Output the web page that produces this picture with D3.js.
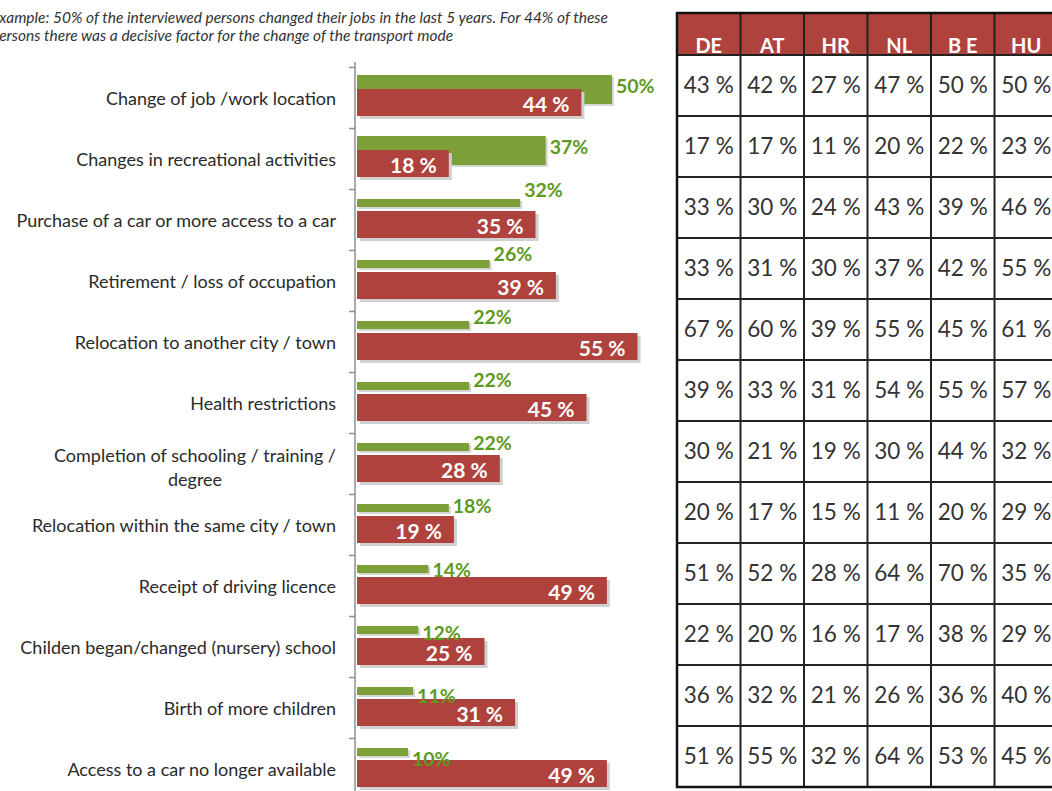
<!DOCTYPE html>
<html>
<head>
<meta charset="utf-8">
<script src="https://cdn.jsdelivr.net/npm/d3@7"></script>
<style>
  body { margin: 0; background: #fff; }
  svg { display: block; font-family: Lato, "Open Sans", sans-serif; }
</style>
</head>
<body>
<div id="chart"></div>
<script>
// categories, top to bottom
var categories = [
  "Change of job /work location",
  "Changes in recreational activities",
  "Purchase of a car or more access to a car",
  "Retirement / loss of occupation",
  "Relocation to another city / town",
  "Health restrictions",
  "Completion of schooling / training / degree",
  "Relocation within the same city / town",
  "Receipt of driving licence",
  "Childen began/changed (nursery) school",
  "Birth of more children",
  "Access to a car no longer available"
];
// share of persons with the event (green) and share for whom it was decisive (red)
var changed  = [50, 37, 32, 26, 22, 22, 22, 18, 14, 12, 11, 10];
var decisive = [44, 18, 35, 39, 55, 45, 28, 19, 49, 25, 31, 49];

// country table
var countries = ["DE", "AT", "HR", "NL", "B E", "HU"];
var DE = [43, 17, 33, 33, 67, 39, 30, 20, 51, 22, 36, 51];
var AT = [42, 17, 30, 31, 60, 33, 21, 17, 52, 20, 32, 55];
var HR = [27, 11, 24, 30, 39, 31, 19, 15, 28, 16, 21, 32];
var NL = [47, 20, 43, 37, 55, 54, 30, 11, 64, 17, 26, 64];
var BE = [50, 22, 39, 42, 45, 55, 44, 20, 70, 38, 36, 53];
var HU = [50, 23, 46, 55, 61, 57, 32, 29, 35, 29, 40, 45];
var countryValues = [DE, AT, HR, NL, BE, HU];

var caption = [
  "Example: 50% of the interviewed persons changed their jobs in the last 5 years. For 44% of these",
  "persons there was a decisive factor for the change of the transport mode"
];

var W = 1052, H = 791;
var RED = "#b0423d", GREEN = "#7d9f38", GREEN_TXT = "#5e9a22";
var LABEL_SIZE = "18px";

var svg = d3.select("#chart").append("svg")
  .attr("width", W).attr("height", H);

// caption (cut off on the left like the source)
svg.selectAll("text.caption")
  .data(caption)
  .enter().append("text")
    .attr("class", "caption")
    .attr("x", -9)
    .attr("y", function (d, i) { return 23 + i * 18; })
    .style("font-style", "italic")
    .style("font-size", "15.5px")
    .style("fill", "#333")
    .text(function (d) { return d; });

// scales
var x = d3.scaleLinear().domain([0, 100]).range([357, 867]);
var y = d3.scaleBand().domain(categories).range([67, 67 + 61 * 12]);
var yAxisScale = d3.scaleLinear().domain([0, categories.length]).range([67, 67 + 61 * 12]);

// axis with ticks between categories
var axisG = svg.append("g")
  .attr("transform", "translate(355,0)")
  .call(d3.axisLeft(yAxisScale)
    .tickValues(d3.range(0, categories.length + 1))
    .tickFormat("")
    .tickSize(6)
    .tickSizeOuter(0));
axisG.select(".domain").attr("stroke", "#8f8f8f").attr("stroke-width", 1.5).attr("d", "M0,62V791");
axisG.selectAll(".tick line").attr("stroke", "#8f8f8f").attr("stroke-width", 1.5);

var rows = categories.map(function (c, i) {
  return { cat: c, i: i, g: changed[i], r: decisive[i] };
});

// green bars (first two are drawn tall, behind the red ones)
function greenTop(d) { return y(d.cat) + (d.i < 2 ? 8 : 10); }
function greenH(d) { return d.i < 2 ? 29 : 8; }

var bars = svg.append("g");
bars.selectAll("rect.gshadow")
  .data(rows).enter().append("rect")
    .attr("x", x(0) + 2)
    .attr("y", function (d) { return greenTop(d) + 2; })
    .attr("width", function (d) { return x(d.g) - x(0); })
    .attr("height", greenH)
    .attr("fill", "#d6d6d6");
bars.selectAll("rect.green")
  .data(rows).enter().append("rect")
    .attr("x", x(0))
    .attr("y", greenTop)
    .attr("width", function (d) { return x(d.g) - x(0); })
    .attr("height", greenH)
    .attr("fill", GREEN);

// red bars
bars.selectAll("rect.rshadow")
  .data(rows).enter().append("rect")
    .attr("x", x(0) + 3)
    .attr("y", function (d) { return y(d.cat) + 25; })
    .attr("width", function (d) { return x(d.r) - x(0); })
    .attr("height", 27)
    .attr("fill", "#d0d0d0");
bars.selectAll("rect.red")
  .data(rows).enter().append("rect")
    .attr("x", x(0))
    .attr("y", function (d) { return y(d.cat) + 22; })
    .attr("width", function (d) { return x(d.r) - x(0); })
    .attr("height", 27)
    .attr("fill", RED);

// green value labels
svg.selectAll("text.glabel")
  .data(rows).enter().append("text")
    .attr("x", function (d) { return x(d.g) + 4; })
    .attr("y", function (d) {
      return d.i < 2 ? y(d.cat) + 18 : y(d.cat) + 14 + (d.i - 8) * 2.2;
    })
    .attr("dominant-baseline", "central")
    .style("font-size", "19.5px")
    .style("font-weight", "bold")
    .style("fill", GREEN_TXT)
    .text(function (d) { return d.g + "%"; });

// red value labels
svg.selectAll("text.rlabel")
  .data(rows).enter().append("text")
    .attr("x", function (d) { return x(d.r) - 12; })
    .attr("y", function (d) { return y(d.cat) + 36; })
    .attr("text-anchor", "end")
    .attr("dominant-baseline", "central")
    .style("font-size", "21px")
    .style("font-weight", "bold")
    .style("fill", "#fff")
    .text(function (d) { return d.r + " %"; });

// category labels, wrapped ones are centred in their block
var labelG = svg.append("g");
rows.forEach(function (d) {
  var cy = y(d.cat) + y.bandwidth() / 2;
  var t = labelG.append("text")
    .style("font-size", LABEL_SIZE).style("fill", "#2a2a2a")
    .attr("text-anchor", "end")
    .attr("x", 336).attr("y", cy)
    .attr("dominant-baseline", "central")
    .text(d.cat);
  if (t.node().getComputedTextLength() > 330) {
    var words = d.cat.split(" "), line1 = [], line2 = [];
    t.text("");
    var probe = labelG.append("text").style("font-size", LABEL_SIZE);
    words.forEach(function (w) {
      probe.text(line1.concat([w]).join(" "));
      if (line2.length === 0 && probe.node().getComputedTextLength() <= 320) line1.push(w);
      else line2.push(w);
    });
    probe.remove();
    var lines = [line1.join(" "), line2.join(" ")];
    probe = labelG.append("text").style("font-size", LABEL_SIZE).text(lines[0]);
    var wmax = probe.node().getComputedTextLength();
    probe.remove();
    t.attr("text-anchor", "middle").attr("x", 336 - wmax / 2);
    t.selectAll("tspan").data(lines).enter().append("tspan")
      .attr("x", 336 - wmax / 2)
      .attr("y", function (l, k) { return cy - 9 + k * 24; })
      .text(function (l) { return l; });
  }
});

// table
var col = d3.scaleBand().domain(countries).range([677, 677 + 63.5 * 6]);
var row = d3.scaleBand().domain(categories).range([55, 787]);
var table = svg.append("g");

table.append("rect")
  .attr("x", col.range()[0]).attr("y", 13)
  .attr("width", col.range()[1] - col.range()[0]).attr("height", 42)
  .attr("fill", RED);

table.selectAll("text.head")
  .data(countries).enter().append("text")
    .attr("x", function (c) { return col(c) + col.bandwidth() / 2; })
    .attr("y", 53)
    .attr("text-anchor", "middle")
    .style("font-size", "20px")
    .style("font-weight", "bold")
    .style("fill", "#fff")
    .text(function (c) { return c; });

countries.forEach(function (c, ci) {
  table.selectAll("text.c" + ci)
    .data(countryValues[ci]).enter().append("text")
      .attr("x", col(c) + col.bandwidth() / 2)
      .attr("y", function (v, i) { return row(categories[i]) + row.bandwidth() / 2 + 7; })
      .attr("text-anchor", "middle")
      .style("font-size", "22.5px")
      .style("fill", "#333")
      .text(function (v) { return v + " %"; });
});

// grid lines
table.selectAll("line.h")
  .data(categories).enter().append("line")
    .attr("x1", col.range()[0]).attr("x2", W)
    .attr("y1", function (c) { return row(c); })
    .attr("y2", function (c) { return row(c); })
    .attr("stroke", "#222").attr("stroke-width", 1.8);
table.selectAll("line.v")
  .data(countries.slice(1)).enter().append("line")
    .attr("x1", function (c) { return col(c); })
    .attr("x2", function (c) { return col(c); })
    .attr("y1", 13).attr("y2", 787)
    .attr("stroke", "#222").attr("stroke-width", 2);
table.append("rect")
  .attr("x", col.range()[0]).attr("y", 13)
  .attr("width", col.range()[1] - col.range()[0]).attr("height", 787 - 13)
  .attr("fill", "none").attr("stroke", "#111").attr("stroke-width", 2.5);
</script>
</body>
</html>
